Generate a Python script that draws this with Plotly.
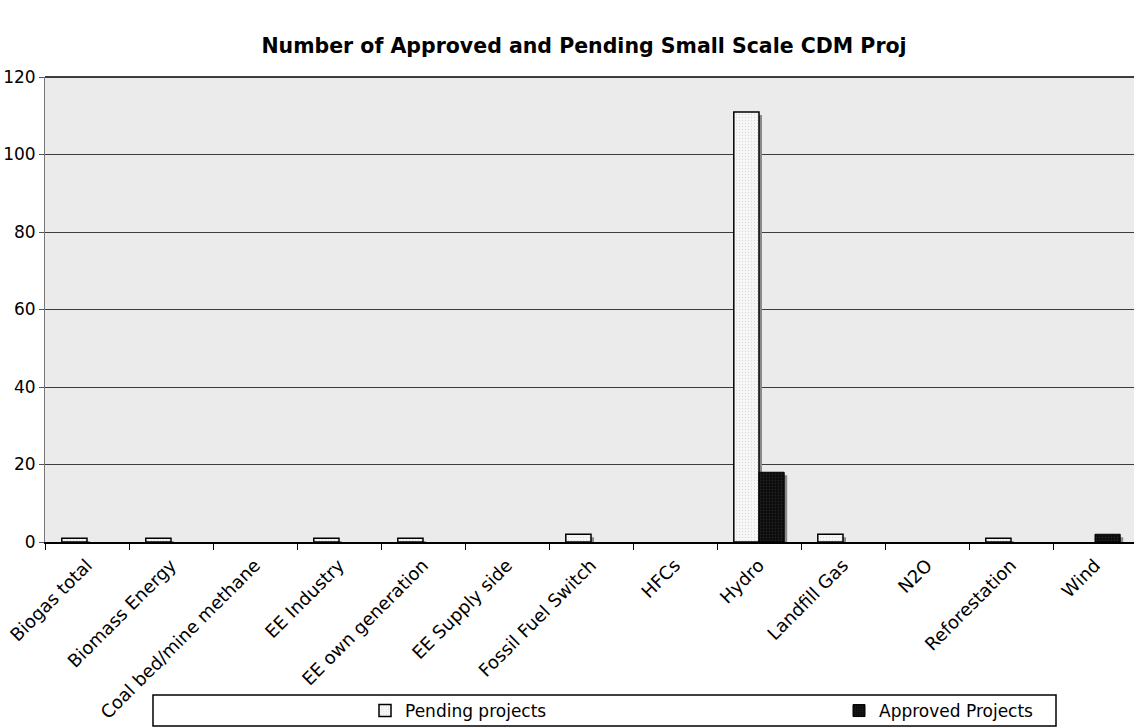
import plotly.graph_objects as go

categories = ["Biogas total", "Biomass Energy", "Coal bed/mine methane", "EE Industry",
              "EE own generation", "EE Supply side", "Fossil Fuel Switch", "HFCs", "Hydro",
              "Landfill Gas", "N2O", "Reforestation", "Wind"]
pending = [1, 1, 0, 1, 1, 0, 2, 0, 111, 2, 0, 1, 0]
approved = [0, 0, 0, 0, 0, 0, 0, 0, 18, 0, 0, 0, 2]
title = "Number of Approved and Pending Small Scale CDM Proj"

W, H = 1134, 727
L, R, T, B = 45, 0, 77, 185
plot_w = W - L - R
cat_px = 84.0
bw = 0.3
sdx = 3 / cat_px
sdy = 3 * 120 / 465


def nz(vals):
    return [v if v else None for v in vals]


fig = go.Figure()

# drop shadows
for vals, off in [(pending, -bw), (approved, 0.0)]:
    fig.add_trace(go.Bar(
        x=categories, y=nz(vals), base=-sdy, width=bw, offset=off + sdx,
        marker=dict(color="#8a8a8a", line=dict(width=0)),
        showlegend=False, hoverinfo="skip"))

fig.add_trace(go.Bar(
    x=categories, y=nz(pending), name="Pending projects", width=bw, offset=-bw,
    legend="legend",
    marker=dict(color="#f7f7f7", line=dict(color="black", width=1.5),
                pattern=dict(shape=".", fgcolor="#bdbdbd", bgcolor="#f7f7f7", size=3, solidity=0.15))))
fig.add_trace(go.Bar(
    x=categories, y=nz(approved), name="Approved Projects", width=bw, offset=0.0,
    legend="legend2",
    marker=dict(color="#111111", line=dict(color="black", width=1),
                pattern=dict(shape=".", fgcolor="#3a3a3a", bgcolor="#0a0a0a", size=3, solidity=0.3))))

x_end = -0.5 + plot_w / cat_px

leg_common = dict(orientation="h", xanchor="left", xref="container",
                  yanchor="middle", yref="container", y=1 - 711 / H,
                  bgcolor="rgba(0,0,0,0)", borderwidth=0,
                  font=dict(family="DejaVu Sans", size=17, color="black"), itemwidth=30)

fig.update_layout(
    width=W, height=H,
    margin=dict(l=L, r=R, t=T, b=B, pad=0, autoexpand=False),
    paper_bgcolor="white", plot_bgcolor="#ebebeb",
    barmode="overlay",
    title=dict(text="<b>" + title + "</b>", x=584 / W, xanchor="center", xref="container",
               y=1 - 46 / H, yanchor="middle",
               font=dict(family="DejaVu Sans", size=20.5, color="black")),
    font=dict(family="DejaVu Sans", color="black"),
    xaxis=dict(type="category", range=[-0.5, x_end], tickangle=-45, automargin=False,
               tickfont=dict(family="DejaVu Sans", size=18, color="black"),
               ticks="outside", ticklen=6, tickcolor="black", tickson="boundaries",
               ticklabelstandoff=4,
               showline=True, linecolor="black", linewidth=1.5, mirror=False,
               showgrid=False),
    yaxis=dict(range=[0, 120], dtick=20, automargin=False,
               tickfont=dict(family="DejaVu Sans", size=17, color="black"),
               ticks="outside", ticklen=5, tickcolor="#555",
               showgrid=True, gridcolor="#3c3c3c", gridwidth=1,
               showline=True, linecolor="#777", linewidth=1, zeroline=False),
    legend=dict(x=365 / W, **leg_common),
    legend2=dict(x=839 / W, **leg_common),
    shapes=[
        dict(type="rect", xref="paper", yref="paper",
             x0=(153 - L) / plot_w, x1=(1056 - L) / plot_w,
             y0=-(727 - 542 - 1) / (H - T - B), y1=-(695 - 542) / (H - T - B),
             line=dict(color="black", width=1.5), fillcolor="white", layer="below"),
        dict(type="line", xref="paper", yref="paper", x0=0, x1=1, y0=1, y1=1,
             line=dict(color="black", width=1.5)),
    ],
)

fig.write_html("out.html")
